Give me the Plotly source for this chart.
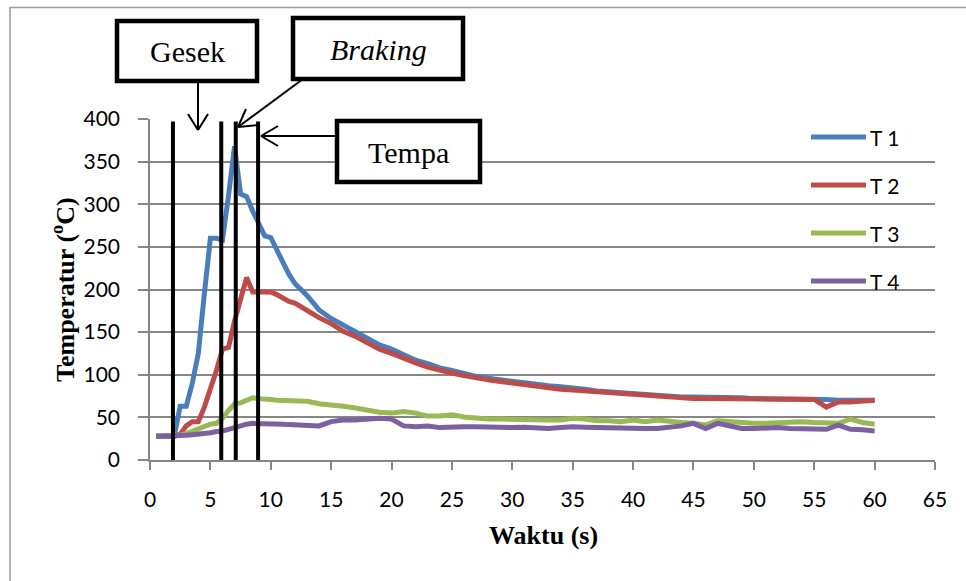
import plotly.graph_objects as go

# ---------------- data ----------------
time_s = [0.5, 1, 1.5, 2, 2.5, 3, 3.5, 4, 4.5, 5, 5.5, 6, 6.5, 7, 7.5, 8, 8.5, 9, 9.5, 10, 10.5, 11, 11.5, 12,
          13, 14, 15, 16, 17, 18, 19, 20, 21, 22, 23, 24, 25, 26, 27, 28, 29, 30, 31, 32, 33, 34, 35, 36,
          37, 38, 39, 40, 41, 42, 43, 44, 45, 46, 47, 48, 49, 50, 51, 52, 53, 54, 55, 56, 57, 58, 59, 60]

t1 = [28, 28, 28, 28, 63, 63, 90, 125, 195, 260, 260, 258, 310, 368, 312, 309, 292, 276, 263, 261, 248, 232, 218, 207,
      193, 176, 166, 158, 150, 143, 135, 130, 123, 117, 113, 108, 105, 101, 98, 96, 94, 92, 90, 89, 87, 86, 85, 83,
      81, 80, 79, 77, 76, 76, 75, 74, 74, 74, 73, 73, 73, 72, 72, 72, 71, 71, 71, 71, 70, 70, 70, 70]

t2 = [28, 28, 28, 28, 30, 40, 45, 45, 62, 82, 105, 130, 132, 163, 190, 214, 197, 197, 197, 197, 194, 190, 186, 184,
      175, 167, 160, 151, 145, 138, 130, 125, 119, 114, 109, 105, 102, 99, 96, 94, 92, 90, 88, 86, 85, 83, 82, 81,
      80, 79, 77, 76, 75, 74, 74, 73, 72, 72, 72, 72, 72, 72, 72, 71, 71, 71, 71, 62, 68, 68, 69, 70]

t3 = [28, 28, 28, 28, 29, 31, 34, 37, 40, 42, 43, 49, 58, 66, 67, 70, 73, 72, 72, 71, 70, 70, 70, 70,
      69, 66, 65, 63, 61, 58, 56, 55, 57, 55, 51.5, 51.5, 53, 50.5, 49, 48, 48, 47.5, 47, 47, 47, 47, 49, 48,
      46, 46, 45, 47, 45, 47, 45, 44, 43, 41, 46, 45, 43, 43, 43, 44, 45, 45, 44, 43, 43, 48, 44, 42]

t4 = [28, 28, 28, 28, 28, 29, 29.5, 30, 31, 32, 33.5, 34, 36, 38, 41, 42, 43, 43, 43, 43, 42, 42, 41.5, 41,
      40, 40, 45, 47, 47, 48, 49, 48, 40, 39, 40, 38, 39, 39, 39, 38.5, 38.5, 38, 38.5, 38, 37, 38, 39, 38.5,
      38, 38, 37.5, 37, 37, 37, 38, 40, 43, 37, 43, 40, 37, 37, 38, 38, 37, 37, 36, 36, 41, 36, 35.5, 34]

series_names = ["T 1", "T 2", "T 3", "T 4"]
series_values = [t1, t2, t3, t4]
series_colors = ["#4A7EBB", "#BE4B48", "#98B954", "#7D60A0"]

phase_lines = [1.9, 5.9, 7.1, 8.95]   # vertical markers (s)
phase_top = 397

x_ticks = [0, 5, 10, 15, 20, 25, 30, 35, 40, 45, 50, 55, 60, 65]
y_ticks = [0, 50, 100, 150, 200, 250, 300, 350, 400]

# ---------------- layout geometry ----------------
W, H = 966, 581
L, R, T, B = 150, 31, 119, 121
PW, PH = W - L - R, H - T - B

SERIF = "Liberation Serif, Times New Roman, serif"
SANS = "Lato, Carlito, Calibri, sans-serif"


def px(x):
    return (x - L) / PW


def py(y):
    return (H - B - y) / PH


fig = go.Figure()

for name, vals, col in zip(series_names, series_values, series_colors):
    fig.add_trace(go.Scatter(x=time_s, y=vals, mode="lines", name=name,
                             line=dict(color=col, width=5), showlegend=False))

shapes = []
for xv in phase_lines:
    shapes.append(dict(type="line", xref="x", yref="y", x0=xv, x1=xv, y0=0, y1=phase_top,
                       line=dict(color="black", width=4)))

# outer chart border (cropped at right / bottom)
shapes.append(dict(type="rect", xref="paper", yref="paper", x0=px(10), x1=px(1000), y0=py(7.5), y1=py(620),
                   line=dict(color="#9a9a9a", width=1.5), layer="below"))

# annotation boxes
boxes = [
    ("Gesek", 117, 257, 21, 81),
    ("<i>Braking</i>", 293, 463, 18, 79),
    ("Tempa", 337, 480, 121, 182),
]
annotations = []
for text, bx0, bx1, by0, by1 in boxes:
    shapes.append(dict(type="rect", xref="paper", yref="paper", x0=px(bx0), x1=px(bx1), y0=py(by0), y1=py(by1),
                       line=dict(color="black", width=4.5), fillcolor="white"))
    annotations.append(dict(text=text, xref="paper", yref="paper", x=px((bx0 + bx1) / 2), y=py((by0 + by1) / 2 + 1),
                            showarrow=False, font=dict(family=SERIF, size=30, color="black"),
                            xanchor="center", yanchor="middle"))

# arrows (line + open V head)
arrows = [
    ((198, 81), (198, 130), [(188, 114), (208, 114)]),
    ((303, 79), (238, 127), [(258, 125), (246, 109)]),
    ((337, 136), (261, 136), [(278, 126), (278, 146)]),
]
for (ax0, ay0), (ax1, ay1), heads in arrows:
    shapes.append(dict(type="line", xref="paper", yref="paper", x0=px(ax0), y0=py(ay0), x1=px(ax1), y1=py(ay1),
                       line=dict(color="black", width=2)))
    for hx, hy in heads:
        shapes.append(dict(type="line", xref="paper", yref="paper", x0=px(ax1), y0=py(ay1), x1=px(hx), y1=py(hy),
                           line=dict(color="black", width=2)))

# legend (drawn manually, Excel style)
leg_y = [137, 185, 233, 281]
for name, col, ly in zip(series_names, series_colors, leg_y):
    shapes.append(dict(type="line", xref="paper", yref="paper", x0=px(811), x1=px(866), y0=py(ly), y1=py(ly),
                       line=dict(color=col, width=5)))
    annotations.append(dict(text=name, xref="paper", yref="paper", x=px(868), y=py(ly), showarrow=False,
                            xanchor="left", yanchor="middle",
                            font=dict(family=SANS, size=21, color="black")))

# axis titles
annotations.append(dict(text="<b>Waktu (s)</b>", xref="paper", yref="paper", x=px(543), y=py(535),
                        showarrow=False, xanchor="center", yanchor="middle",
                        font=dict(family=SERIF, size=26, color="black")))
annotations.append(dict(text="<b>Temperatur (<sup>o</sup>C)</b>", xref="paper", yref="paper", x=px(63), y=py(290),
                        showarrow=False, xanchor="center", yanchor="middle", textangle=-90,
                        font=dict(family=SERIF, size=26, color="black")))

axis_gray = "#868686"
fig.update_layout(
    width=W, height=H,
    margin=dict(l=L, r=R, t=T, b=B),
    paper_bgcolor="white", plot_bgcolor="white",
    shapes=shapes, annotations=annotations,
    xaxis=dict(range=[0, 65], tickvals=x_ticks, ticks="outside", ticklen=8, tickwidth=1.5, tickcolor=axis_gray,
               showline=True, linecolor=axis_gray, linewidth=1.5, showgrid=False, zeroline=False,
               tickfont=dict(family=SANS, size=21, color="black"), ticklabelstandoff=12),
    yaxis=dict(range=[0, 400], tickvals=y_ticks, ticks="outside", ticklen=10, tickwidth=1.5, tickcolor=axis_gray,
               showline=True, linecolor=axis_gray, linewidth=1.5, showgrid=True, gridcolor=axis_gray, gridwidth=1.5,
               zeroline=False, tickfont=dict(family=SANS, size=21, color="black"), ticklabelstandoff=14),
)

fig.write_html("out.html")
